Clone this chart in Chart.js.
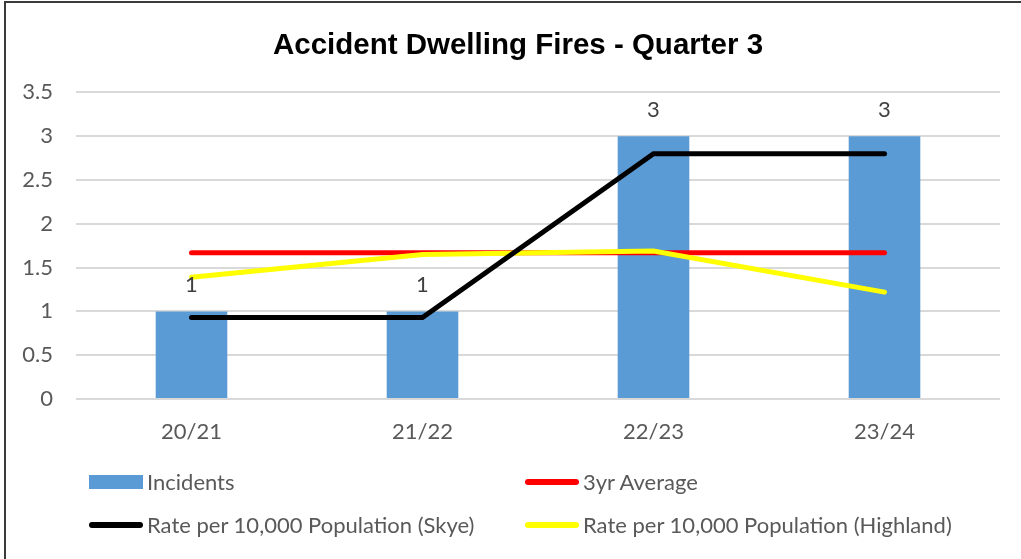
<!DOCTYPE html>
<html lang="en">
<head>
  <meta charset="UTF-8">
  <title>Accident Dwelling Fires - Quarter 3</title>
  <style>
    html, body { margin: 0; padding: 0; background: #fff; overflow: hidden; }
    #wrap { position: relative; width: 1021px; height: 559px; }
    #frame { position: absolute; left: 4px; top: 1px; width: 1100px; height: 600px;
             border-left: 2px solid #3a3a3a; border-top: 2px solid #3a3a3a; }
    #chartBox { position: absolute; left: 0; top: 0; width: 1021px; height: 559px; }
    .leg { position: absolute; font-family: Lato, sans-serif; font-size: 22px; color: #595959;
           white-space: nowrap; line-height: 26px; }
    .sw { position: absolute; }
  </style>
</head>
<body>
<div id="wrap">
  <div id="frame"></div>
  <div id="chartBox"><canvas id="fires"></canvas></div>
  <div id="legend"></div>
</div>

<script src="https://cdn.jsdelivr.net/npm/chart.js"></script>
<script>
  const years = ['20/21', '21/22', '22/23', '23/24'];
  const incidents = [1, 1, 3, 3];
  const threeYrAvg = [1.67, 1.67, 1.67, 1.67];
  const rateSkye = [0.93, 0.93, 2.8, 2.8];
  const rateHighland = [1.39, 1.65, 1.69, 1.22];
  const yTicks = [0, 0.5, 1, 1.5, 2, 2.5, 3, 3.5];

  const tickFont = { family: 'Lato, sans-serif', size: 22 };

  // value labels above the bars
  const barLabels = {
    id: 'barLabels',
    afterLayout(chart) {
      // original title sits a little right of the canvas centre
      if (chart.titleBlock) chart.titleBlock.left = 36;
    },
    afterDatasetsDraw(chart) {
      const meta = chart.getDatasetMeta(0);
      const ctx = chart.ctx;
      ctx.save();
      ctx.font = '22px Lato, sans-serif';
      ctx.fillStyle = '#404040';
      ctx.textAlign = 'center';
      ctx.textBaseline = 'middle';
      meta.data.forEach((bar, i) => {
        ctx.fillText(String(incidents[i]), bar.x, bar.y - 26);
      });
      ctx.restore();
    }
  };

  const ctx = document.getElementById('fires').getContext('2d');
  const chart = new Chart(ctx, {
    type: 'bar',
    data: {
      labels: years,
      datasets: [
        {
          label: 'Incidents',
          data: incidents,
          backgroundColor: '#5B9BD5',
          categoryPercentage: 1,
          barPercentage: 0.31,
          order: 3
        },
        {
          type: 'line',
          label: '3yr Average',
          data: threeYrAvg,
          borderColor: '#FF0000',
          borderWidth: 5,
          borderCapStyle: 'round',
          pointRadius: 0,
          tension: 0,
          order: 2
        },
        {
          type: 'line',
          label: 'Rate per 10,000 Population (Skye)',
          data: rateSkye,
          borderColor: '#000000',
          borderWidth: 5,
          borderCapStyle: 'round',
          pointRadius: 0,
          tension: 0,
          order: 0
        },
        {
          type: 'line',
          label: 'Rate per 10,000 Population (Highland)',
          data: rateHighland,
          borderColor: '#FFFF00',
          borderWidth: 5,
          borderCapStyle: 'round',
          pointRadius: 0,
          tension: 0,
          order: 1
        }
      ]
    },
    options: {
      responsive: true,
      maintainAspectRatio: false,
      animation: false,
      layout: { padding: { left: 0, right: 21, top: 13, bottom: 100 } },
      plugins: {
        legend: { display: false },
        tooltip: { enabled: false },
        title: {
          display: true,
          text: 'Accident Dwelling Fires - Quarter 3',
          color: '#000',
          font: { family: '"Liberation Sans", Arial, sans-serif', size: 29.5, weight: 'bold' },
          padding: { top: 15, bottom: 29 }
        }
      },
      scales: {
        x: {
          afterFit(scale) { scale.height = 60; },
          grid: { display: false },
          border: { display: false },
          ticks: { color: '#595959', font: tickFont, padding: 12 }
        },
        y: {
          min: 0,
          max: 3.5,
          afterBuildTicks(scale) { scale.ticks = yTicks.map(v => ({ value: v })); },
          afterFit(scale) { scale.width = 76; },
          grid: { color: '#d9d9d9', lineWidth: 2, drawTicks: false },
          border: { display: false },
          ticks: { color: '#595959', font: tickFont, padding: 23, callback: v => String(v) }
        }
      }
    },
    plugins: [barLabels]
  });

  // legend laid out in two columns like the original
  const legendItems = [
    { text: 'Incidents', kind: 'box', color: '#5B9BD5', x: 89, y: 482 },
    { text: '3yr Average', kind: 'line', color: '#FF0000', x: 525, y: 482 },
    { text: 'Rate per 10,000 Population (Skye)', kind: 'line', color: '#000000', x: 89, y: 525 },
    { text: 'Rate per 10,000 Population (Highland)', kind: 'line', color: '#FFFF00', x: 525, y: 525 }
  ];
  const legend = document.getElementById('legend');
  legendItems.forEach(item => {
    const sw = document.createElement('div');
    sw.className = 'sw';
    sw.style.left = item.x + 'px';
    sw.style.width = '54px';
    sw.style.background = item.color;
    if (item.kind === 'box') {
      sw.style.top = (item.y - 7) + 'px';
      sw.style.height = '14px';
    } else {
      sw.style.top = (item.y - 3) + 'px';
      sw.style.height = '6px';
      sw.style.borderRadius = '3px';
    }
    legend.appendChild(sw);
    const t = document.createElement('div');
    t.className = 'leg';
    t.textContent = item.text;
    t.style.left = (item.x + 58) + 'px';
    t.style.top = (item.y - 13) + 'px';
    legend.appendChild(t);
  });
</script>
</body>
</html>
